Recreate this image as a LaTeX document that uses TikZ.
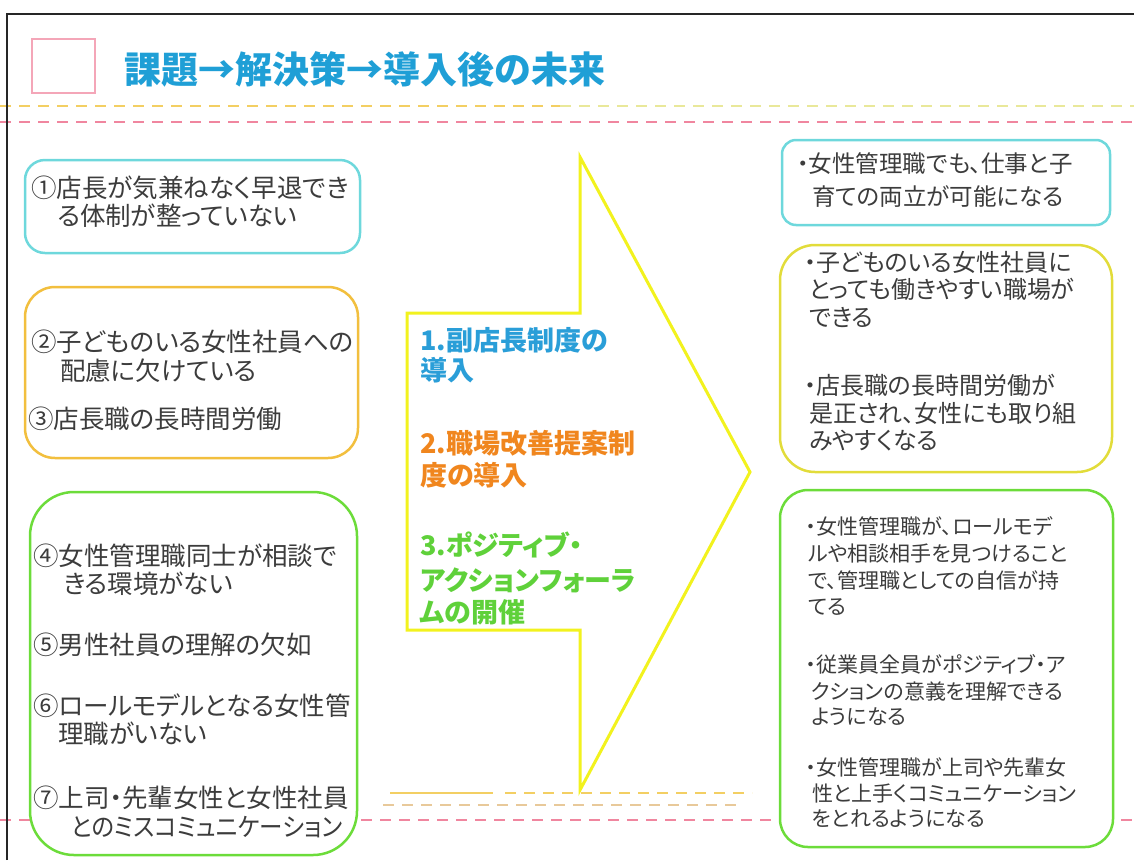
\documentclass[tikz,border=0pt]{standalone}
\usepackage{fontspec}
\newfontfamily\jp[RawFeature=+palt]{Noto Sans CJK JP}
\newfontfamily\jpt{Noto Sans CJK JP}
\definecolor{txt}{HTML}{3C3C3C}
\definecolor{cyanc}{HTML}{6ED8DC}
\definecolor{orangec}{HTML}{F2BF3E}
\definecolor{yellowc}{HTML}{E2DC3A}
\definecolor{greenc}{HTML}{6CDC3A}
\definecolor{arrowc}{HTML}{F2F21E}
\definecolor{titlec}{HTML}{1F9FD6}
\definecolor{bluet}{HTML}{2A9ED8}
\definecolor{oranget}{HTML}{F0861E}
\definecolor{greent}{HTML}{5FD13A}
\definecolor{pinkc}{HTML}{F0869F}
\definecolor{pinksq}{HTML}{F4A6B8}
\definecolor{dyel}{HTML}{F3CF63}
\definecolor{dyel2}{HTML}{E9E89A}
\definecolor{dbeige}{HTML}{E8C99A}
\tikzset{
  box/.style={draw=#1, line width=2.5pt, fill=white, inner sep=0pt},
  dline/.style={draw=#1, line width=2pt, dash pattern=on 11pt off 8pt},
  lt/.style={anchor=base west, inner sep=0pt, text=txt, font={\jp\fontsize{25.5}{30}\selectfont}},
  rc/.style={anchor=base west, inner sep=0pt, text=txt, font={\jp\fontsize{23.5}{28}\selectfont}},
  ry/.style={anchor=base west, inner sep=0pt, text=txt, font={\jp\fontsize{24}{27}\selectfont}},
  rg/.style={anchor=base west, inner sep=0pt, text=txt, font={\jp\fontsize{21}{25}\selectfont}},
  at/.style={anchor=base west, inner sep=0pt, text=#1, font={\jp\bfseries\fontsize{27}{30}\selectfont}},
}
\begin{document}
\begin{tikzpicture}[x=1pt,y=-1pt]
\useasboundingbox (0,0) rectangle (1134,860);
% dashed separators
\draw[dline=dyel] (0,106) -- (560,106);
\draw[dline=dyel2] (560,106) -- (1134,106);
\draw[dline=pinkc] (0,122) -- (1134,122);
\draw[dline=pinkc] (0,820) -- (1134,820);
\draw[draw=dyel, line width=2pt] (390,793) -- (493,793);
\draw[dline=dyel] (505,793) -- (752,793);
\draw[dline=dbeige] (383,805) -- (743,805);
% frame
\draw[line width=2pt, black!85] (7,860) -- (7,14) -- (1134,14);
% title
\node[draw=pinksq, line width=2pt, fill=white, minimum width=63pt, minimum height=54pt, inner sep=0pt] (sq) at (63.5,65.5) {};
\node[anchor=base west, inner sep=0pt, text=titlec, font={\jpt\bfseries\fontsize{37}{40}\selectfont}] (title) at (124,83) {課題→解決策→導入後の未来};
% left boxes
\node[box=cyanc, rounded corners=20pt, minimum width=335pt, minimum height=93pt] (L1) at (192.5,206.5) {};
\node[box=orangec, rounded corners=30pt, minimum width=333pt, minimum height=171pt] (L2) at (191.5,372.5) {};
\node[box=greenc, rounded corners=44pt, minimum width=327pt, minimum height=363pt] (L3) at (193.5,673.5) {};
% right boxes
\node[box=cyanc, rounded corners=14pt, minimum width=328pt, minimum height=85pt] (R1) at (946,182.5) {};
\node[box=yellowc, rounded corners=35pt, minimum width=332pt, minimum height=227pt] (R2) at (946,358.5) {};
\node[box=greenc, rounded corners=28pt, minimum width=333pt, minimum height=357pt] (R3) at (946.5,668.5) {};
% big arrow
\draw[arrowc, line width=3pt, fill=white, line join=miter]
  (407,313) -- (580,313) -- (580,157) -- (750,472) -- (580,790) -- (580,630) -- (407,630) -- cycle;
% arrow texts
\node[at=bluet] (a1a) at (420,350) {1.副店長制度の};
\node[at=bluet] (a1b) at (420,380) {導入};
\node[at=oranget] (a2a) at (420,453) {2.職場改善提案制};
\node[at=oranget] (a2b) at (420,485) {度の導入};
\node[at=greent] (a3a) at (420,555) {3.ポジティブ・};
\node[at=greent] (a3b) at (420,590) {アクションフォーラ};
\node[at=greent] (a3c) at (420,622) {ムの開催};
% left texts
\node[lt] (l1a) at (31,197) {①店長が気兼ねなく早退でき};
\node[lt] (l1b) at (57,225) {る体制が整っていない};
\node[lt] (l2a) at (31,351) {②子どものいる女性社員への};
\node[lt] (l2b) at (60,380) {配慮に欠けている};
\node[lt] (l3a) at (28,428) {③店長職の長時間労働};
\node[lt] (l4a) at (33,565) {④女性管理職同士が相談で};
\node[lt] (l4b) at (63,593) {きる環境がない};
\node[lt] (l5a) at (33,654) {⑤男性社員の理解の欠如};
\node[lt] (l6a) at (33,715) {⑥ロールモデルとなる女性管};
\node[lt] (l6b) at (58,743) {理職がいない};
\node[lt] (l7a) at (33,807) {⑦上司・先輩女性と女性社員};
\node[lt] (l7b) at (71,836) {\scalebox{0.92}[1]{とのミスコミュニケーション}};
% right texts
\node[rc] (r1a) at (797,172) {・女性管理職でも、仕事と子};
\node[rc] (r1b) at (812,205) {育ての両立が可能になる};
\node[ry] (r2a) at (804,271) {・子どものいる女性社員に};
\node[ry] (r2b) at (809,298) {とっても働きやすい職場が};
\node[ry] (r2c) at (809,326) {できる};
\node[ry] (r2d) at (804,394) {・店長職の長時間労働が};
\node[ry] (r2e) at (809,422) {是正され、女性にも取り組};
\node[ry] (r2f) at (809,449) {みやすくなる};
\node[rg] (r3a) at (806,534) {・女性管理職が、ロールモデ};
\node[rg] (r3b) at (808,561) {ルや相談相手を見つけること};
\node[rg] (r3c) at (808,588) {で、管理職としての自信が持};
\node[rg] (r3d) at (808,614) {てる};
\node[rg] (r3e) at (806,672) {・従業員全員がポジティブ・ア};
\node[rg] (r3f) at (811,699) {クションの意義を理解できる};
\node[rg] (r3g) at (811,724) {ようになる};
\node[rg] (r3h) at (806,775) {・女性管理職が上司や先輩女};
\node[rg] (r3i) at (812,801) {性と上手くコミュニケーション};
\node[rg] (r3j) at (812,826) {をとれるようになる};
\end{tikzpicture}
\end{document}
